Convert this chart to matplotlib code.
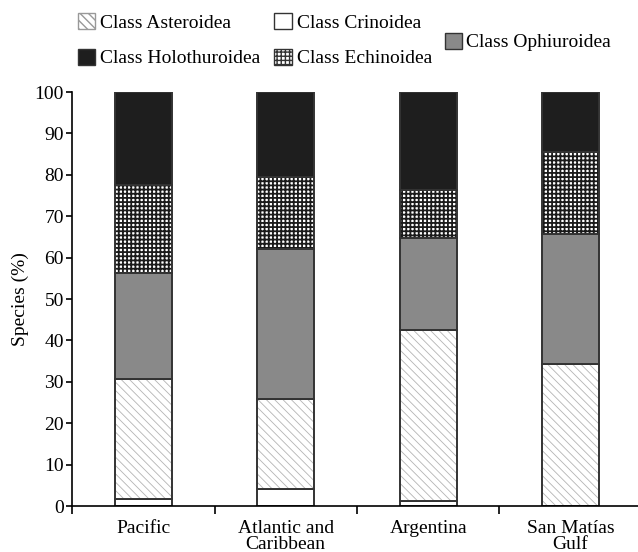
import matplotlib
matplotlib.use('Agg')
import matplotlib.pyplot as plt
from matplotlib.patches import Patch
import numpy as np

plt.rcParams['font.family'] = ['Liberation Serif', 'DejaVu Serif']
plt.rcParams['font.size'] = 14

regions = ['Pacific', 'Atlantic and\nCaribbean', 'Argentina', 'San Matías\nGulf']
crinoidea = [1.7, 4.2, 1.2, 0.0]
asteroidea = [29.0, 21.6, 41.4, 34.3]
ophiuroidea = [25.6, 36.2, 22.1, 31.5]
echinoidea = [21.2, 17.5, 11.6, 19.8]
holothuroidea = [22.5, 20.5, 23.7, 14.4]

# (label, values, face, hatch, hatch colour, hatch width, legend edge) bottom to top
layers = [
    ('Class Crinoidea', crinoidea, 'white', None, 'white', 1.0, '#333333'),
    ('Class Asteroidea', asteroidea, 'white', '\\\\\\\\', '#b4b4b4', 0.6, '#999999'),
    ('Class Ophiuroidea', ophiuroidea, '#898989', None, '#898989', 1.0, '#333333'),
    ('Class Echinoidea', echinoidea, 'white', '++++', '#1a1a1a', 1.3, '#333333'),
    ('Class Holothuroidea', holothuroidea, '#1e1e1e', None, '#1e1e1e', 1.0, '#333333'),
]

fig = plt.figure(figsize=(6.38, 5.52), dpi=100)
ax = fig.add_axes([0.113, 0.0833, 0.893, 0.75])

x = np.arange(len(regions))
bottom = np.zeros(len(regions))
handles = {}
for label, vals, face, hatch, hcol, hlw, ledge in layers:
    vals = np.array(vals)
    with plt.rc_context({'hatch.linewidth': hlw}):
        ax.bar(x, vals, 0.4, bottom=bottom, color=face, hatch=hatch,
               edgecolor=hcol, linewidth=0)
        handles[label] = Patch(facecolor=face, hatch=hatch, edgecolor=ledge,
                               linewidth=1.0)
    ax.bar(x, vals, 0.4, bottom=bottom, fill=False, edgecolor='#333333',
           linewidth=1.4)
    bottom += vals

ax.set_xlim(-0.5, 3.5)
ax.set_ylim(0, 100)
ax.set_yticks(range(0, 101, 10))
ax.set_xticks(x)
ax.set_xticklabels(regions, linespacing=0.95)
ax.set_xticks(np.arange(-0.5, 4, 1), minor=True)
ax.tick_params(axis='x', which='major', length=0, pad=10)
ax.tick_params(axis='x', which='minor', length=6, width=1.2, direction='out')
ax.tick_params(axis='y', length=4, width=1.2, direction='out', pad=2)
ax.spines['top'].set_visible(False)
ax.spines['right'].set_visible(False)
ax.spines['left'].set_linewidth(1.2)
ax.spines['bottom'].set_linewidth(1.2)
ax.set_ylabel('Species (%)', labelpad=4)

fig.legend([handles['Class Asteroidea'], handles['Class Holothuroidea'],
            handles['Class Crinoidea'], handles['Class Echinoidea']],
           ['Class Asteroidea', 'Class Holothuroidea',
            'Class Crinoidea', 'Class Echinoidea'],
           ncol=2, loc='upper left', bbox_to_anchor=(0.11, 0.99),
           frameon=False, handlelength=0.9, handleheight=0.9,
           handletextpad=0.25, columnspacing=0.7, labelspacing=0.85,
           borderaxespad=0)
fig.legend([handles['Class Ophiuroidea']], ['Class Ophiuroidea'],
           loc='upper left', bbox_to_anchor=(0.685, 0.955), frameon=False,
           handlelength=0.9, handleheight=0.9, handletextpad=0.2,
           borderaxespad=0)

fig.savefig('out.png', dpi=100)
